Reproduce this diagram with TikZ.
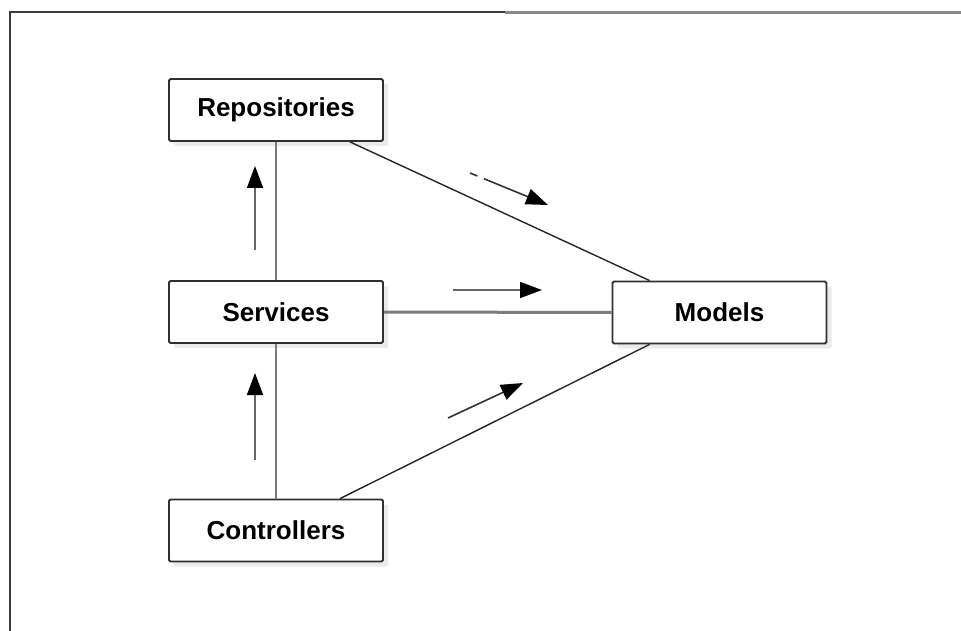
\documentclass[tikz,border=0pt]{standalone}
\usepackage{fontspec}
\setmainfont{Liberation Sans}
\usetikzlibrary{arrows.meta,calc,shadows}
\definecolor{frameL}{HTML}{3C3C3C}
\definecolor{frameR}{HTML}{8A8A8A}
\definecolor{linkgray}{HTML}{7C7C7C}
\definecolor{boxline}{HTML}{303030}
\tikzset{
  layer/.style={draw=boxline, line width=1.8pt, fill=white, rounded corners=1.5pt,
    minimum width=214pt, minimum height=62pt, inner sep=0pt,
    font=\fontsize{26}{30}\selectfont\bfseries,
    drop shadow={shadow xshift=5pt, shadow yshift=-5pt, fill=black!8, opacity=1}},
  stack/.style={draw=linkgray, line width=2pt},
  tie/.style={draw=black!85, line width=1.4pt},
  flow/.style={draw=black!60, line width=1.6pt,
    -{Triangle[length=22pt,width=16pt,color=black]}},
}
\begin{document}
\begin{tikzpicture}[x=1pt,y=-1pt]
  \useasboundingbox (0,0) rectangle (961,631);
  % outer frame
  \draw[frameL, line width=2pt] (10,631) -- (10,12) -- (505,12);
  \draw[frameR, line width=3pt] (505,12.5) -- (961,12.5);

  % layers
  \node[layer] (rep) at (276,110) {Repositories};
  \node[layer] (srv) at (276,312) {Services};
  \node[layer] (mod) at (719.5,312.5) {Models};
  \node[layer] (ctl) at (276,530.5) {Controllers};

  % dependency links
  \draw[stack] (rep.south) -- (srv.north);
  \draw[stack] (srv.south) -- (ctl.north);
  \draw[tie] ($(rep.south)+(74,0)$) -- ($(mod.north west)+(38,0)$);
  \draw[tie] ($(ctl.north)+(64,0)$) -- ($(mod.south west)+(38,0)$);
  \draw[draw=linkgray, line width=3pt] (srv.east) -- (mod.west);

  % direction markers
  \coordinate (u1a) at (255,250); \coordinate (u1b) at (255,166);
  \coordinate (u2a) at (255,460); \coordinate (u2b) at (255,373);
  \coordinate (d1a) at (470,173); \coordinate (d1b) at (548,205);
  \coordinate (h1a) at (453,290); \coordinate (h1b) at (542,290);
  \coordinate (l1a) at (448,418); \coordinate (l1b) at (523,383);
  \draw[flow] (u1a) -- (u1b);
  \draw[flow] (u2a) -- (u2b);
  \draw[flow, draw=black!80, dash pattern=on 8pt off 7pt on 200pt] (d1a) -- (d1b);
  \draw[flow] (h1a) -- (h1b);
  \draw[flow, draw=black!80] (l1a) -- (l1b);
\end{tikzpicture}
\end{document}
